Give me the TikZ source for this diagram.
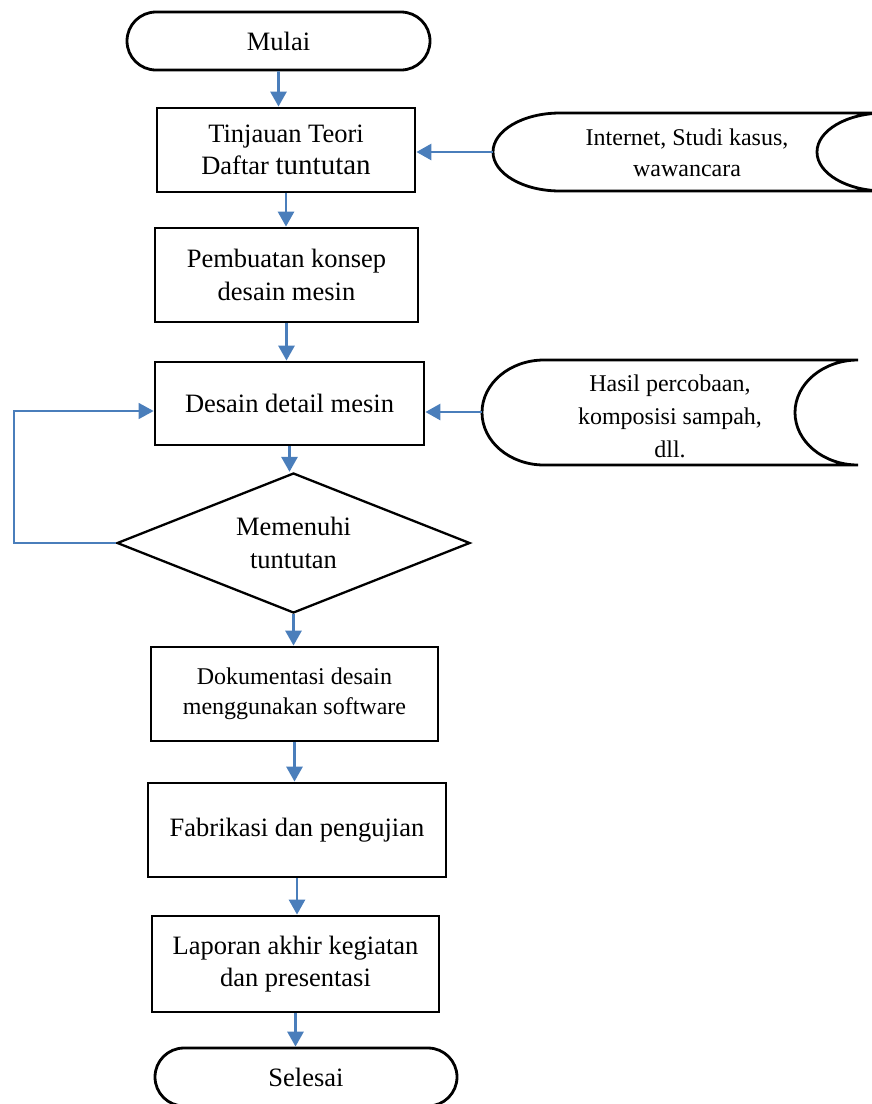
\documentclass[tikz,border=0pt]{standalone}
\usepackage{fontspec}
\setmainfont{Liberation Serif}
\usetikzlibrary{shapes.geometric,shapes.misc,arrows.meta}
\definecolor{arrowblue}{RGB}{74,126,187}

\tikzstyle{box} = [draw, line width=2.8pt, rectangle, align=center, inner sep=0pt, font=\fontsize{26.5}{32.5}\selectfont]
\tikzstyle{term} = [box, rounded rectangle]
\tikzstyle{decide} = [box, diamond, shape aspect=2.5, line width=2.3pt]
\tikzstyle{note} = [align=center, font=\fontsize{24}{31}\selectfont]
\tikzstyle{store} = [draw, line width=2.8pt, fill=white]
\tikzstyle{flow} = [draw=arrowblue, line width=2.8pt, -{Triangle[width=16pt,length=15pt]}]
\tikzstyle{backline} = [flow, line width=1.6pt]

\begin{document}
\begin{tikzpicture}[x=1pt, y=-1pt]
  \useasboundingbox (0,0) rectangle (872,1104);
  \clip (0,0) rectangle (872,1104);

  % main column
  \node (mulai) at (278.5,41) [term, minimum width=303pt, minimum height=58pt] {Mulai};
  \node (tinjauan) at (286,150) [box, minimum width=258pt, minimum height=84pt] {Tinjauan Teori\\Daftar {\fontsize{29}{32.5}\selectfont tuntutan}};
  \node (konsep) at (286.5,275) [box, minimum width=263pt, minimum height=94pt] {Pembuatan konsep\\desain mesin};
  \node (detail) at (289.5,403.5) [box, minimum width=269pt, minimum height=83pt] {Desain detail mesin};
  \node (memenuhi) at (293.5,543) [decide, minimum width=353pt, minimum height=140pt] {Memenuhi\\tuntutan};
  \node (dokumen) at (294.5,694) [box, minimum width=287pt, minimum height=94pt, font=\fontsize{24}{30}\selectfont] {Dokumentasi desain\\menggunakan software};
  \node (fabrikasi) at (297,830) [box, minimum width=298pt, minimum height=94pt] {Fabrikasi dan pengujian};
  \node (laporan) at (295.5,964) [box, minimum width=287pt, minimum height=96pt] {Laporan akhir kegiatan\\dan presentasi};
  \node (selesai) at (306,1077) [term, minimum width=302pt, minimum height=58pt] {Selesai};

  % stored data inputs
  \draw [store] (560,113) -- (884,113) arc[start angle=270, end angle=90, x radius=67, y radius=39]
    -- (560,191) arc[start angle=90, end angle=270, x radius=67, y radius=39] -- cycle;
  \node (internet) at (687,153) [note] {Internet, Studi kasus,\\wawancara};
  \coordinate (inet) at (493,152);

  \draw [store] (544,360) -- (858,360) arc[start angle=270, end angle=90, x radius=63, y radius=52.5]
    -- (544,465) arc[start angle=90, end angle=270, x radius=62, y radius=52.5] -- cycle;
  \node (hasil) at (670,416) [note, font=\fontsize{24}{33}\selectfont] {Hasil percobaan,\\komposisi sampah,\\dll.};
  \coordinate (data) at (482,412);

  % connectors
  \draw [flow] (mulai) -- (mulai |- tinjauan.north);
  \draw [flow] (tinjauan) -- (tinjauan |- konsep.north);
  \draw [flow] (konsep) -- (konsep |- detail.north);
  \draw [flow] (detail) -- (detail |- memenuhi.north);
  \draw [flow] (memenuhi) -- (memenuhi |- dokumen.north);
  \draw [flow] (dokumen) -- (dokumen |- fabrikasi.north);
  \draw [flow] (fabrikasi) -- (fabrikasi |- laporan.north);
  \draw [flow] (laporan) -- (laporan |- selesai.north);
  \draw [flow] (inet) -- (inet -| tinjauan.east);
  \draw [flow] (data) -- (data -| detail.east);

  % back to design when not met
  \coordinate (fb) at (14,411);
  \draw [backline] (memenuhi.west) -| (fb) -- (fb -| detail.west);
\end{tikzpicture}
\end{document}
